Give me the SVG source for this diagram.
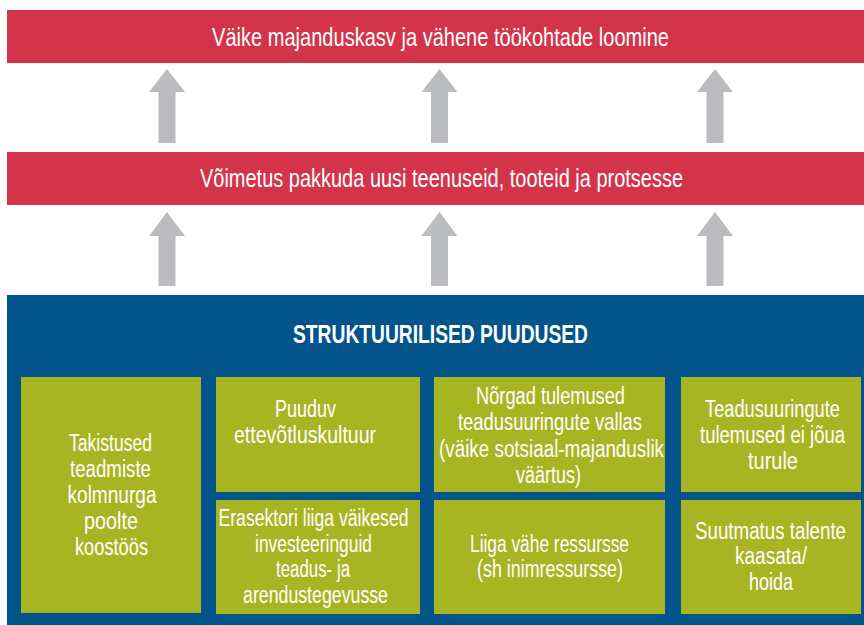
<svg xmlns="http://www.w3.org/2000/svg" width="864" height="625" viewBox="0 0 864 625">
<style>
.red{fill:#D4344A}
.blue{fill:#02548A}
.green{fill:#A8B523}
.arrow{fill:#BBBCBF}
text{font-family:"Liberation Sans",Arial,sans-serif;fill:#FFFFFF;text-anchor:middle}
.big{font-size:26px}
.title{font-size:25px;font-weight:bold}
.t{font-size:24px}
</style>
<rect width="864" height="625" fill="#FFFFFF"/>
<g id="outcome">
<rect class="red" x="7" y="10" width="857" height="53"/>
<text class="big" transform="translate(440.5 46) scale(0.77 1)" x="0" y="0" textLength="593.5" lengthAdjust="spacingAndGlyphs">Väike majanduskasv ja vähene töökohtade loomine</text>
</g>
<g id="inability">
<rect class="red" x="7" y="152" width="857" height="53"/>
<text class="big" transform="translate(441.5 187) scale(0.77 1)" x="0" y="0" textLength="627.3" lengthAdjust="spacingAndGlyphs">Võimetus pakkuda uusi teenuseid, tooteid ja protsesse</text>
</g>
<g id="connectors">
<polygon class="arrow" points="167,69 185,92 175.5,92 175.5,143 158.5,143 158.5,92 149,92"/>
<polygon class="arrow" points="439.5,69 457.5,92 448,92 448,143 431,143 431,92 421.5,92"/>
<polygon class="arrow" points="715,69 733,92 723.5,92 723.5,143 706.5,143 706.5,92 697,92"/>
<polygon class="arrow" points="167,212 185,236 175.5,236 175.5,286 158.5,286 158.5,236 149,236"/>
<polygon class="arrow" points="439.5,212 457.5,236 448,236 448,286 431,286 431,236 421.5,236"/>
<polygon class="arrow" points="715,212 733,236 723.5,236 723.5,286 706.5,286 706.5,236 697,236"/>
</g>
<g id="structural">
<rect class="blue" x="7" y="295" width="857" height="330"/>
<text class="title" transform="translate(440.5 343) scale(0.77 1)" x="0" y="0" textLength="383.1" lengthAdjust="spacingAndGlyphs">STRUKTUURILISED PUUDUSED</text>
</g>
<g id="node-takistused">
<rect class="green" x="21" y="377" width="180" height="236"/>
<text class="t" transform="translate(110.5 451) scale(0.77 1)" x="0" y="0" textLength="107.8" lengthAdjust="spacingAndGlyphs">Takistused</text>
<text class="t" transform="translate(110.5 477) scale(0.77 1)" x="0" y="0" textLength="105.2" lengthAdjust="spacingAndGlyphs">teadmiste</text>
<text class="t" transform="translate(112 503) scale(0.77 1)" x="0" y="0" textLength="115.6" lengthAdjust="spacingAndGlyphs">kolmnurga</text>
<text class="t" transform="translate(111 529) scale(0.77 1)" x="0" y="0" textLength="70.1" lengthAdjust="spacingAndGlyphs">poolte</text>
<text class="t" transform="translate(111.5 555) scale(0.77 1)" x="0" y="0" textLength="94.8" lengthAdjust="spacingAndGlyphs">koostöös</text>
</g>
<g id="node-puuduv">
<rect class="green" x="216" y="377" width="204" height="115"/>
<text class="t" transform="translate(305.5 417) scale(0.77 1)" x="0" y="0" textLength="79.2" lengthAdjust="spacingAndGlyphs">Puuduv</text>
<text class="t" transform="translate(305 443) scale(0.77 1)" x="0" y="0" textLength="184.4" lengthAdjust="spacingAndGlyphs">ettevõtluskultuur</text>
</g>
<g id="node-erasektori">
<rect class="green" x="216" y="500" width="204" height="114"/>
<text class="t" transform="translate(313.5 526) scale(0.77 1)" x="0" y="0" textLength="246.8" lengthAdjust="spacingAndGlyphs">Erasektori liiga väikesed</text>
<text class="t" transform="translate(313.5 552) scale(0.77 1)" x="0" y="0" textLength="151.9" lengthAdjust="spacingAndGlyphs">investeeringuid</text>
<text class="t" transform="translate(313 577) scale(0.77 1)" x="0" y="0" textLength="96.1" lengthAdjust="spacingAndGlyphs">teadus- ja</text>
<text class="t" transform="translate(315.5 603) scale(0.77 1)" x="0" y="0" textLength="188.3" lengthAdjust="spacingAndGlyphs">arendustegevusse</text>
</g>
<g id="node-norgad">
<rect class="green" x="434" y="377" width="231" height="115"/>
<text class="t" transform="translate(550.5 404) scale(0.77 1)" x="0" y="0" textLength="193.5" lengthAdjust="spacingAndGlyphs">Nõrgad tulemused</text>
<text class="t" transform="translate(550 430) scale(0.77 1)" x="0" y="0" textLength="239" lengthAdjust="spacingAndGlyphs">teadusuuringute vallas</text>
<text class="t" transform="translate(551.5 457) scale(0.77 1)" x="0" y="0" textLength="292.2" lengthAdjust="spacingAndGlyphs">(väike sotsiaal-majanduslik</text>
<text class="t" transform="translate(548.5 483) scale(0.77 1)" x="0" y="0" textLength="84.4" lengthAdjust="spacingAndGlyphs">väärtus)</text>
</g>
<g id="node-liiga">
<rect class="green" x="434" y="500" width="231" height="114"/>
<text class="t" transform="translate(549.5 552) scale(0.77 1)" x="0" y="0" textLength="206.5" lengthAdjust="spacingAndGlyphs">Liiga vähe ressursse</text>
<text class="t" transform="translate(550 577) scale(0.77 1)" x="0" y="0" textLength="189.6" lengthAdjust="spacingAndGlyphs">(sh inimressursse)</text>
</g>
<g id="node-teadusuuringute">
<rect class="green" x="681" y="377" width="180" height="115"/>
<text class="t" transform="translate(772.5 417) scale(0.77 1)" x="0" y="0" textLength="175.3" lengthAdjust="spacingAndGlyphs">Teadusuuringute</text>
<text class="t" transform="translate(772.5 443) scale(0.77 1)" x="0" y="0" textLength="188.3" lengthAdjust="spacingAndGlyphs">tulemused ei jõua</text>
<text class="t" transform="translate(773 469) scale(0.77 1)" x="0" y="0" textLength="64.9" lengthAdjust="spacingAndGlyphs">turule</text>
</g>
<g id="node-suutmatus">
<rect class="green" x="681" y="500" width="180" height="114"/>
<text class="t" transform="translate(770.5 539) scale(0.77 1)" x="0" y="0" textLength="196.1" lengthAdjust="spacingAndGlyphs">Suutmatus talente</text>
<text class="t" transform="translate(771 564) scale(0.77 1)" x="0" y="0" textLength="93.5" lengthAdjust="spacingAndGlyphs">kaasata/</text>
<text class="t" transform="translate(771 590) scale(0.77 1)" x="0" y="0" textLength="57.1" lengthAdjust="spacingAndGlyphs">hoida</text>
</g>
</svg>
